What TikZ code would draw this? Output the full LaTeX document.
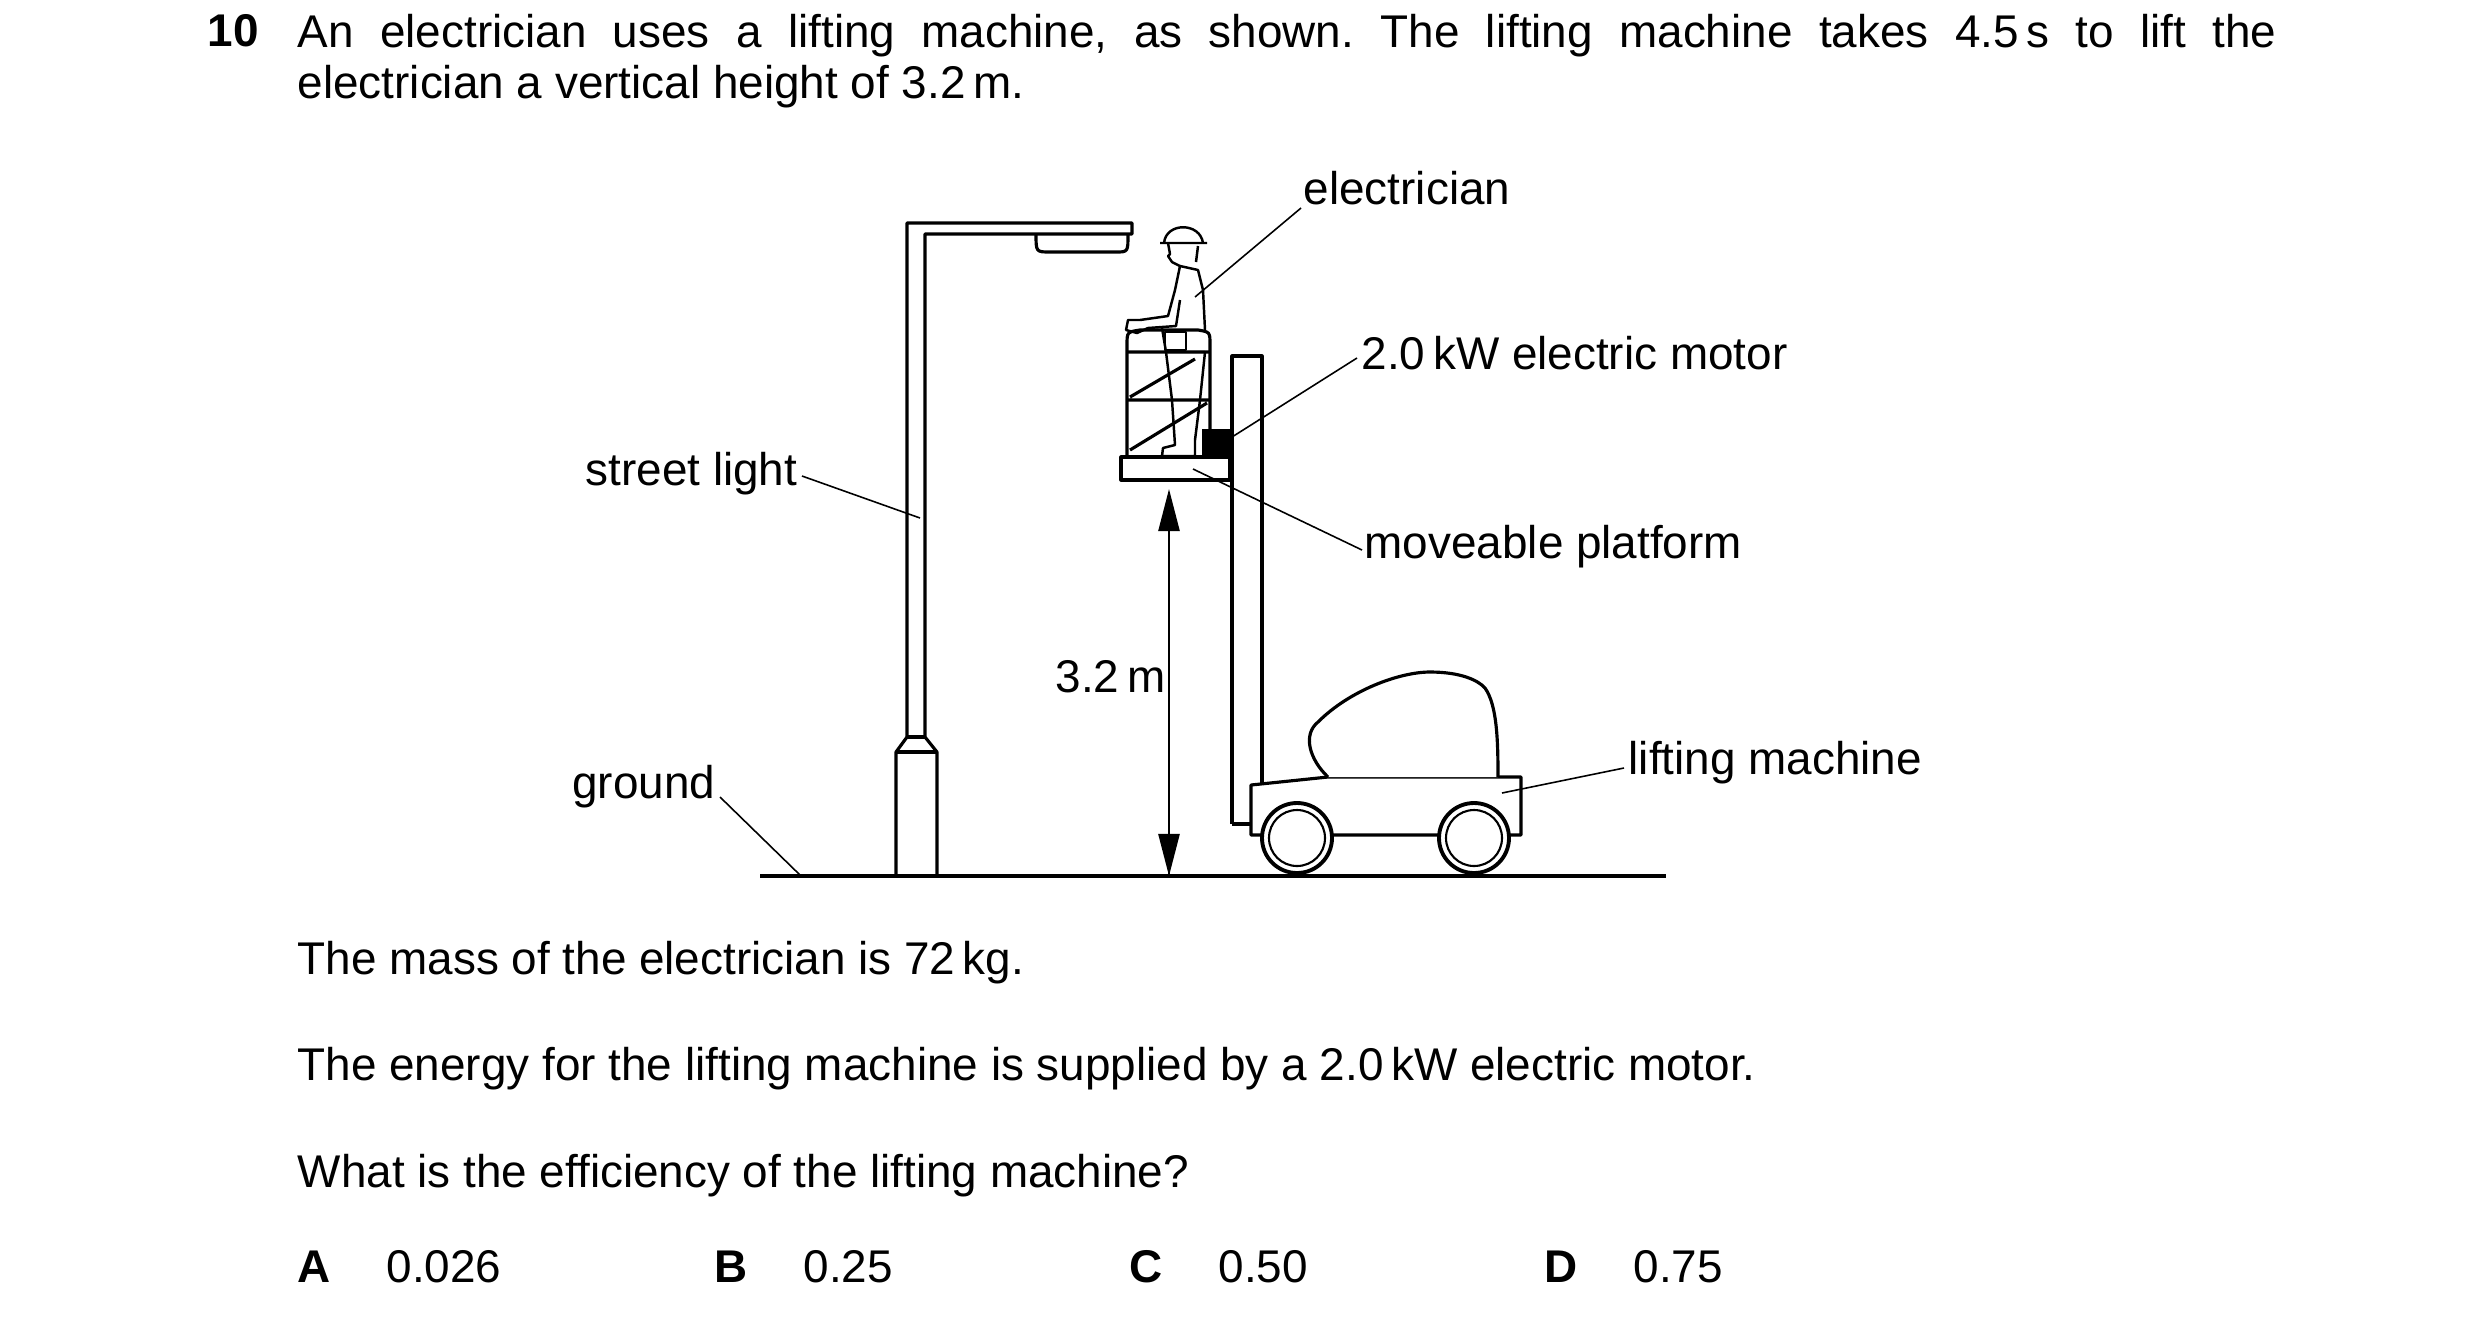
\documentclass[tikz,border=0pt]{standalone}
\usepackage{fontspec}
\setmainfont{Liberation Sans}
\usetikzlibrary{arrows.meta}
\frenchspacing
\begin{document}
\begin{tikzpicture}[x=0.1mm,y=-0.1mm,
  txt/.style={inner sep=0pt,font=\fontsize{13.05}{14.5}\selectfont},
  thick line/.style={line width=0.9pt,line join=round},
  lead/.style={line width=0.45pt}]
\useasboundingbox (0,0) rectangle (2480,1323);
% question text
\node[txt,anchor=north west,font=\bfseries\fontsize{13.05}{14.5}\selectfont] (num) at (207,14) {10};
\node[txt,anchor=north west,text width=197.9mm,align=justify] (q) at (297,14)
 {An electrician uses a lifting machine, as shown. The lifting machine takes 4.5\,s to lift the\linebreak electrician a vertical height of 3.2\,m.};
% street light
\draw[thick line] (896,875) -- (896,752) -- (907,737) -- (907,223) -- (1132,223) -- (1132,234) -- (925,234) -- (925,737) -- (937,752) -- (937,875);
\draw[thick line] (896,752) -- (937,752) (907,737) -- (925,737);
\draw[thick line] (1036,234) .. controls (1036,252) .. (1050,252) -- (1116,252) .. controls (1128,252) .. (1128,234);
% ground
\draw[line width=1.2pt] (760,876) -- (1666,876);
% mast
\draw[thick line] (1232,824) -- (1232,356) -- (1262,356) -- (1262,787);
\draw[thick line] (1232,824) -- (1251,824);
% platform
\draw[thick line,fill=white] (1121,457) rectangle (1230,480);
\fill (1202,429) rectangle (1232,457);
\draw[thick line] (1127,457) -- (1127,345) .. controls (1127,332) .. (1140,330) -- (1198,330) .. controls (1210,332) .. (1210,345) -- (1210,429);
\draw[thick line] (1127,352) -- (1210,352) (1127,400) -- (1210,400)
  (1130,397) -- (1195,359) (1130,450) -- (1207,403);
% person
\begin{scope}[line width=0.7pt,line join=round]
\draw (1160,243) -- (1207,243) (1164,243) .. controls (1166,222) and (1200,222) .. (1203,243);
\draw (1168,243) -- (1170,254) -- (1168,256) -- (1172,262) -- (1180,266);
\draw (1198,246) -- (1196,262);
\draw (1180,266) -- (1198,270) -- (1203,290) -- (1205,330);
\draw (1180,266) -- (1175,290) -- (1168,316) -- (1140,320) -- (1128,320) -- (1126,330) -- (1137,333) -- (1148,328) -- (1176,326) -- (1180,300);
\draw (1162,328) -- (1166,352) -- (1205,352);
\draw (1166,352) -- (1172,400) -- (1175,445) -- (1163,448) -- (1162,456) -- (1195,456) -- (1195,440) -- (1200,400) -- (1205,352);
\draw (1165,332) rectangle (1186,350);
\end{scope}
% height arrow
\draw[line width=0.7pt,-{Triangle[width=6pt,length=12pt]}] (1169,876) -- (1169,489);
\draw[line width=0.7pt,{Triangle[width=6pt,length=12pt]}-] (1169,876) -- (1169,600);
\node[txt,anchor=east] (h) at (1166,677) {3.2\,m};
% lifting machine
\draw[thick line,fill=white] (1251,835) -- (1251,785) -- (1328,777) -- (1521,777) -- (1521,835) -- cycle;
\draw[thick line,fill=white] (1328,777) .. controls (1310,760) and (1302,735) .. (1318,722) .. controls (1350,690) and (1400,672) .. (1430,672) .. controls (1460,672) and (1478,680) .. (1485,688) .. controls (1497,705) and (1498,740) .. (1498,777);
\foreach \cx in {1297,1474}{
  \draw[line width=1.1pt,fill=white] (\cx,838) circle (35);
  \draw[line width=0.6pt] (\cx,838) circle (28);
}
% labels
\node[txt] (el) at (1407,188) {electrician};
\draw[lead] (1301,208) -- (1195,297);
\node[txt,anchor=west] (mo) at (1361,353) {2.0\,kW electric motor};
\draw[lead] (1357,358) -- (1232,437);
\node[txt,anchor=west] (pl) at (1364,547) {moveable platform};
\draw[lead] (1362,550) -- (1193,469);
\node[txt,anchor=east] (sl) at (798,474) {street light};
\draw[lead] (802,476) -- (920,518);
\node[txt,anchor=east] (gr) at (716,787) {ground};
\draw[lead] (720,797) -- (800,875);
\node[txt,anchor=west] (lm) at (1628,763) {lifting machine};
\draw[lead] (1624,768) -- (1502,793);
% lower text
\node[txt,anchor=west] (t1) at (297,963) {The mass of the electrician is 72\,kg.};
\node[txt,anchor=west] (t2) at (297,1069) {The energy for the lifting machine is supplied by a 2.0\,kW electric motor.};
\node[txt,anchor=west] (t3) at (297,1176) {What is the efficiency of the lifting machine?};
\node[txt,anchor=west,font=\bfseries\fontsize{13.05}{14.5}\selectfont] (A) at (297,1267) {A};
\node[txt,anchor=west] (a) at (386,1267) {0.026};
\node[txt,anchor=west,font=\bfseries\fontsize{13.05}{14.5}\selectfont] (B) at (714,1267) {B};
\node[txt,anchor=west] (b) at (803,1267) {0.25};
\node[txt,anchor=west,font=\bfseries\fontsize{13.05}{14.5}\selectfont] (C) at (1129,1267) {C};
\node[txt,anchor=west] (c) at (1218,1267) {0.50};
\node[txt,anchor=west,font=\bfseries\fontsize{13.05}{14.5}\selectfont] (D) at (1544,1267) {D};
\node[txt,anchor=west] (d) at (1633,1267) {0.75};
\end{tikzpicture}
\end{document}
